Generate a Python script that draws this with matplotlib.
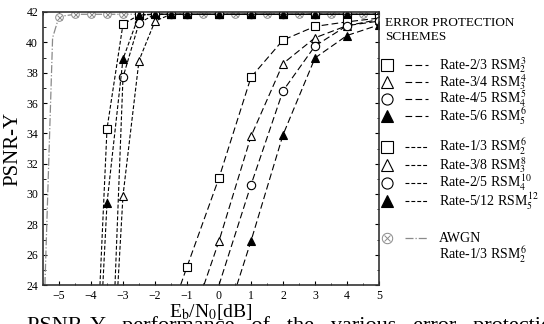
import matplotlib
matplotlib.use('Agg')
import matplotlib.pyplot as plt
from matplotlib.lines import Line2D

plt.rcParams['font.family'] = ['Liberation Serif', 'DejaVu Serif']
plt.rcParams['mathtext.fontset'] = 'stix'

# AWGN reference (first two points are only line knees, no marker)
awgn_x = [-5.44, -5.2, -5, -4.5, -4, -3.5, -3, -2.5, -2, -1.5, -1, -0.5, 0, 0.5, 1, 1.5, 2, 2.5, 3, 3.5, 4, 4.5, 5]
awgn_y = [24.0, 40.3, 41.7, 41.85, 41.85, 41.85, 41.85, 41.85, 41.85, 41.85, 41.85, 41.85, 41.85,
          41.85, 41.85, 41.85, 41.85, 41.85, 41.85, 41.85, 41.85, 41.85, 41.85]

# strong protection group (rate 1/3 ... 5/12), first point = crossing of 24 dB
r13_x = [-3.72, -3.5, -3, -2.5, -2, -1.5, -1, 0, 1, 2, 3, 4, 5]
r13_y = [24.0, 34.3, 41.2, 41.8, 41.85, 41.85, 41.85, 41.85, 41.85, 41.85, 41.85, 41.85, 41.85]
r38_x = [-3.16, -3, -2.5, -2, -1.5, -1, 0, 1, 2, 3, 4, 5]
r38_y = [24.0, 29.9, 38.8, 41.4, 41.85, 41.85, 41.85, 41.85, 41.85, 41.85, 41.85, 41.85]
r25_x = [-3.25, -3, -2.5, -2, -1.5, -1, 0, 1, 2, 3, 4, 5]
r25_y = [24.0, 37.7, 41.27, 41.85, 41.85, 41.85, 41.85, 41.85, 41.85, 41.85, 41.85, 41.85]
r512_x = [-3.63, -3.5, -3, -2.5, -2, -1.5, -1, 0, 1, 2, 3, 4, 5]
r512_y = [24.0, 29.4, 38.9, 41.8, 41.85, 41.85, 41.85, 41.85, 41.85, 41.85, 41.85, 41.85, 41.85]

# weak protection group (rate 2/3 ... 5/6)
r23_x = [-1.2, -1, 0, 1, 2, 3, 4, 5]
r23_y = [24.0, 25.2, 31.06, 37.7, 40.15, 41.05, 41.35, 41.6]
r34_x = [-0.47, 0, 1, 2, 3, 4, 5]
r34_y = [24.0, 26.9, 33.8, 38.6, 40.3, 41.1, 41.5]
r45_x = [0.0, 1, 2, 3, 4, 5]
r45_y = [24.0, 30.6, 36.8, 39.76, 41.1, 41.4]
r56_x = [0.56, 1, 2, 3, 4, 5]
r56_y = [24.0, 26.9, 33.9, 38.97, 40.45, 41.15]

fig = plt.figure(figsize=(5.44, 3.24), dpi=100)
ax = fig.add_axes([43 / 544, 1 - 285 / 324, 336 / 544, 273 / 324])

short_dash = (0, (3.5, 1.8))
long_dash = (0, (6, 3))
ms = 6
grey = '#8a8a8a'

awgn_marks = list(range(2, len(awgn_x)))
ax.plot(awgn_x, awgn_y, color=grey, lw=0.9, ls='-.', marker='o', ms=5.5, mfc='white',
        mec=grey, mew=0.7, markevery=awgn_marks)
ax.plot(awgn_x, awgn_y, ls='none', marker='x', ms=3.6, mec=grey, mew=0.7, markevery=awgn_marks)

curves = [
    (r13_x, r13_y, 's', 'white', short_dash),
    (r38_x, r38_y, '^', 'white', short_dash),
    (r25_x, r25_y, 'o', 'white', short_dash),
    (r512_x, r512_y, '^', 'black', short_dash),
    (r23_x, r23_y, 's', 'white', long_dash),
    (r34_x, r34_y, '^', 'white', long_dash),
    (r45_x, r45_y, 'o', 'white', long_dash),
    (r56_x, r56_y, '^', 'black', long_dash),
]
for xs, ys, mk, fc, ls in curves:
    ax.plot(xs, ys, color='black', lw=0.8, ls=ls, marker=mk, ms=ms, mfc=fc,
            mec='black', mew=0.8, markevery=list(range(1, len(xs))))

ax.set_xlim(-5.5, 5)
ax.set_ylim(24, 42)
ax.set_xticks(range(-5, 6))
ax.set_xticks([v / 2 for v in range(-11, 11)], minor=True)
ax.set_yticks(range(24, 43, 2))
ax.set_yticks(range(24, 43), minor=True)
ax.tick_params(which='both', direction='in', top=True, right=True, labelsize=8.5)
ax.tick_params(which='major', length=3)
ax.tick_params(which='minor', length=1.8)
for s in ax.spines.values():
    s.set_linewidth(1.2)
    s.set_color('#333333')

ax.set_xlabel(r'E$_{\rm b}$/N$_0$[dB]', fontsize=14, labelpad=0)
ax.set_ylabel('PSNR-Y', fontsize=15, labelpad=3)


def fx(px):
    return px / 544


def fy(py):
    return 1 - py / 324


fig.text(fx(385), fy(23), 'ERROR PROTECTION', fontsize=9.5, va='center')
fig.text(fx(385), fy(37), 'SCHEMES', fontsize=9.5, va='center')

leg_rows = [
    (65, 's', 'white', long_dash, r'Rate-2/3 RSM$_2^{\,3}$'),
    (82, '^', 'white', long_dash, r'Rate-3/4 RSM$_3^{\,4}$'),
    (99, 'o', 'white', long_dash, r'Rate-4/5 RSM$_4^{\,5}$'),
    (116, '^', 'black', long_dash, r'Rate-5/6 RSM$_5^{\,6}$'),
    (147, 's', 'white', short_dash, r'Rate-1/3 RSM$_2^{\,6}$'),
    (165, '^', 'white', short_dash, r'Rate-3/8 RSM$_3^{\,8}$'),
    (183, 'o', 'white', short_dash, r'Rate-2/5 RSM$_4^{\,10}$'),
    (201, '^', 'black', short_dash, r'Rate-5/12 RSM$_5^{\,12}$'),
]
for py, mk, fc, ls, lab in leg_rows:
    fig.add_artist(Line2D([fx(387)], [fy(py)], marker=mk, ms=8, mfc=fc, mec='black',
                          mew=0.8, ls='none', transform=fig.transFigure))
    fig.add_artist(Line2D([fx(405), fx(428)], [fy(py), fy(py)], color='black', lw=0.8,
                          ls=ls, transform=fig.transFigure))
    fig.text(fx(439), fy(py), lab, fontsize=10, va='center')

fig.add_artist(Line2D([fx(387)], [fy(238)], marker='o', ms=7.5, mfc='white', mec=grey,
                      mew=0.7, ls='none', transform=fig.transFigure))
fig.add_artist(Line2D([fx(387)], [fy(238)], marker='x', ms=5, mec=grey,
                      mew=0.7, ls='none', transform=fig.transFigure))
fig.add_artist(Line2D([fx(405), fx(428)], [fy(238), fy(238)], color=grey, lw=0.9,
                      ls='-.', transform=fig.transFigure))
fig.text(fx(439), fy(238), 'AWGN', fontsize=10, va='center')
fig.text(fx(439), fy(255), r'Rate-1/3 RSM$_2^{\,6}$', fontsize=10, va='center')

# caption cut off at the bottom of the picture
fig.text(fx(27), fy(316), 'PSNR-Y   performance   of   the   various   error   protection',
         fontsize=16, va='top')

fig.savefig('out.png', dpi=100)
